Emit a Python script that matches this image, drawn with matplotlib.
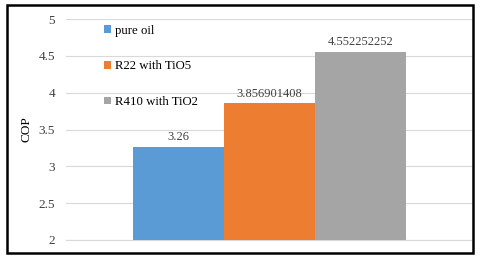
import matplotlib
matplotlib.use("Agg")
import matplotlib.pyplot as plt
from matplotlib.patches import Rectangle

series = ["pure oil", "R22 with TiO5", "R410 with TiO2"]
values = [3.26, 3.856901408, 4.552252252]
labels = ["3.26", "3.856901408", "4.552252252"]
colors = ["#5b9bd5", "#ed7d31", "#a5a5a5"]
yticks = [2, 2.5, 3, 3.5, 4, 4.5, 5]
ytick_labels = ["2", "2.5", "3", "3.5", "4", "4.5", "5"]

plt.rcParams['font.family'] = ['Liberation Serif', 'DejaVu Serif']

W, H = 480, 259
fig = plt.figure(figsize=(W/100, H/100), dpi=100)
ax = fig.add_axes([66/W, 1-240/H, (473-66)/W, (240-19)/H])

bw = 0.2236
offsets = [-bw, 0, bw]
handles = []
for off, v, lab, c, name in zip(offsets, values, labels, colors, series):
    b = ax.bar(off, v - 2, bottom=2, width=bw, color=c, label=name, zorder=3)
    handles.append(b)
    ax.text(off, v + 0.05, lab, ha='center', va='bottom', fontsize=9, color='#404040')

ax.set_xlim(-0.5, 0.5)
ax.set_ylim(2, 5)
ax.set_yticks(yticks)
ax.set_yticklabels(ytick_labels, fontsize=9.5, color='#404040')
ax.set_xticks([])
ax.tick_params(axis='y', length=0, pad=8)
ax.grid(axis='y', color='#d9d9d9', linewidth=0.8, zorder=0)
for s in ['top', 'right', 'left']:
    ax.spines[s].set_visible(False)
ax.spines['bottom'].set_color('#d9d9d9')
ax.set_ylabel('COP', fontsize=9.5, color='#000000', labelpad=4)

leg = ax.legend(handles=handles, labels=series, loc='upper left', bbox_to_anchor=(0.072, 1.015),
                frameon=False, fontsize=9.2, handlelength=0.55, handleheight=0.55,
                handletextpad=0.3, labelspacing=1.85, borderaxespad=0.3)

fig.patches.append(Rectangle((7/W, 1-253/H), (473-7)/W, (253-5)/H, transform=fig.transFigure,
                             fill=False, edgecolor='black', linewidth=1.8))

fig.savefig('out.png', dpi=100)
